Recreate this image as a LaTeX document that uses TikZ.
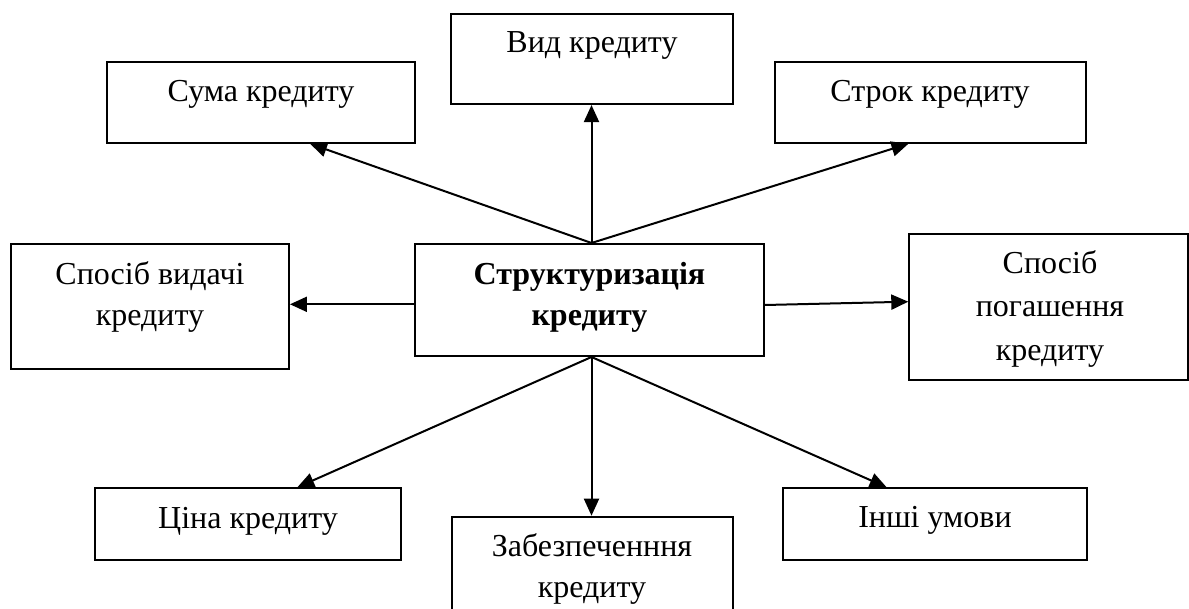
\documentclass[tikz,border=0pt]{standalone}
\usepackage{fontspec}
\setmainfont{Liberation Serif}
\usetikzlibrary{arrows.meta,calc}
\begin{document}
\begin{tikzpicture}[x=0.5pt,y=-0.5pt,
  box/.style={draw, line width=1pt, rectangle, inner sep=0pt},
  lbl/.style={font=\fontsize{16pt}{20.5pt}\selectfont, align=center, anchor=base, inner sep=0pt},
  arr/.style={line width=1pt, -{Triangle[length=8.5pt,width=7.5pt]}}]
\useasboundingbox (0,0) rectangle (1189,609);
\clip (0,0) rectangle (1189,609);
% boxes
\node[box, minimum width=154pt, minimum height=40.2pt] (suma) at (261,102.5) {};
\node[box, minimum width=141.25pt, minimum height=44.85pt] (vyd) at (592.2,59.2) {};
\node[box, minimum width=155.5pt, minimum height=40.2pt] (strok) at (930.5,102.5) {};
\node[box, minimum width=139.15pt, minimum height=62.5pt] (vydachi) at (149.8,306.5) {};
\node[box, minimum width=174.5pt, minimum height=56pt] (ctr) at (589.5,300) {};
\node[box, minimum width=139.35pt, minimum height=73pt] (pogash) at (1048.65,307) {};
\node[box, minimum width=153pt, minimum height=35.85pt] (tsina) at (248,524.2) {};
\node[box, minimum width=140.9pt, minimum height=61.65pt] (zab) at (592.4,578.35) {};
\node[box, minimum width=152pt, minimum height=35.85pt] (inshi) at (934.7,524.2) {};
% texts (anchor base = baseline of the last line)
\node[lbl] at (261,102) {Сума кредиту};
\node[lbl] at (592,53) {Вид кредиту};
\node[lbl] at (930,102) {Строк кредиту};
\node[lbl] at (150,325.5) {Спосіб видачі\\кредиту};
\node[lbl, font=\fontsize{16pt}{20.5pt}\selectfont\bfseries] at (589.5,325.6) {Структуризація\\кредиту};
\node[lbl, font=\fontsize{16pt}{21.75pt}\selectfont] at (1050,360) {Спосіб\\погашення\\кредиту};
\node[lbl] at (248,528.3) {Ціна кредиту};
\node[lbl] at (592,597.7) {Забезпеченння\\кредиту};
\node[lbl] at (935,527) {Інші умови};
% connectors
\draw[arr] ([xshift=1pt]ctr.north) -- ([xshift=24.5pt]suma.south);
\draw[arr] ([xshift=1pt]ctr.north) -- ([xshift=1pt]ctr.north |- vyd.south);
\draw[arr] ([xshift=1pt]ctr.north) -- ([xshift=-11pt]strok.south);
\draw[arr] ([yshift=-2.15pt]ctr.west) -- ([yshift=-2.15pt]ctr.west -| vydachi.east);
\draw[arr] ([yshift=-2.5pt]ctr.east) -- ([yshift=2.65pt]pogash.west);
\draw[arr] ([xshift=1pt]ctr.south) -- ([xshift=24.65pt]tsina.north);
\draw[arr] ([xshift=1pt]ctr.south) -- ([xshift=1pt]ctr.south |- zab.north);
\draw[arr] ([xshift=1pt]ctr.south) -- ([xshift=-24pt]inshi.north);
\end{tikzpicture}
\end{document}
